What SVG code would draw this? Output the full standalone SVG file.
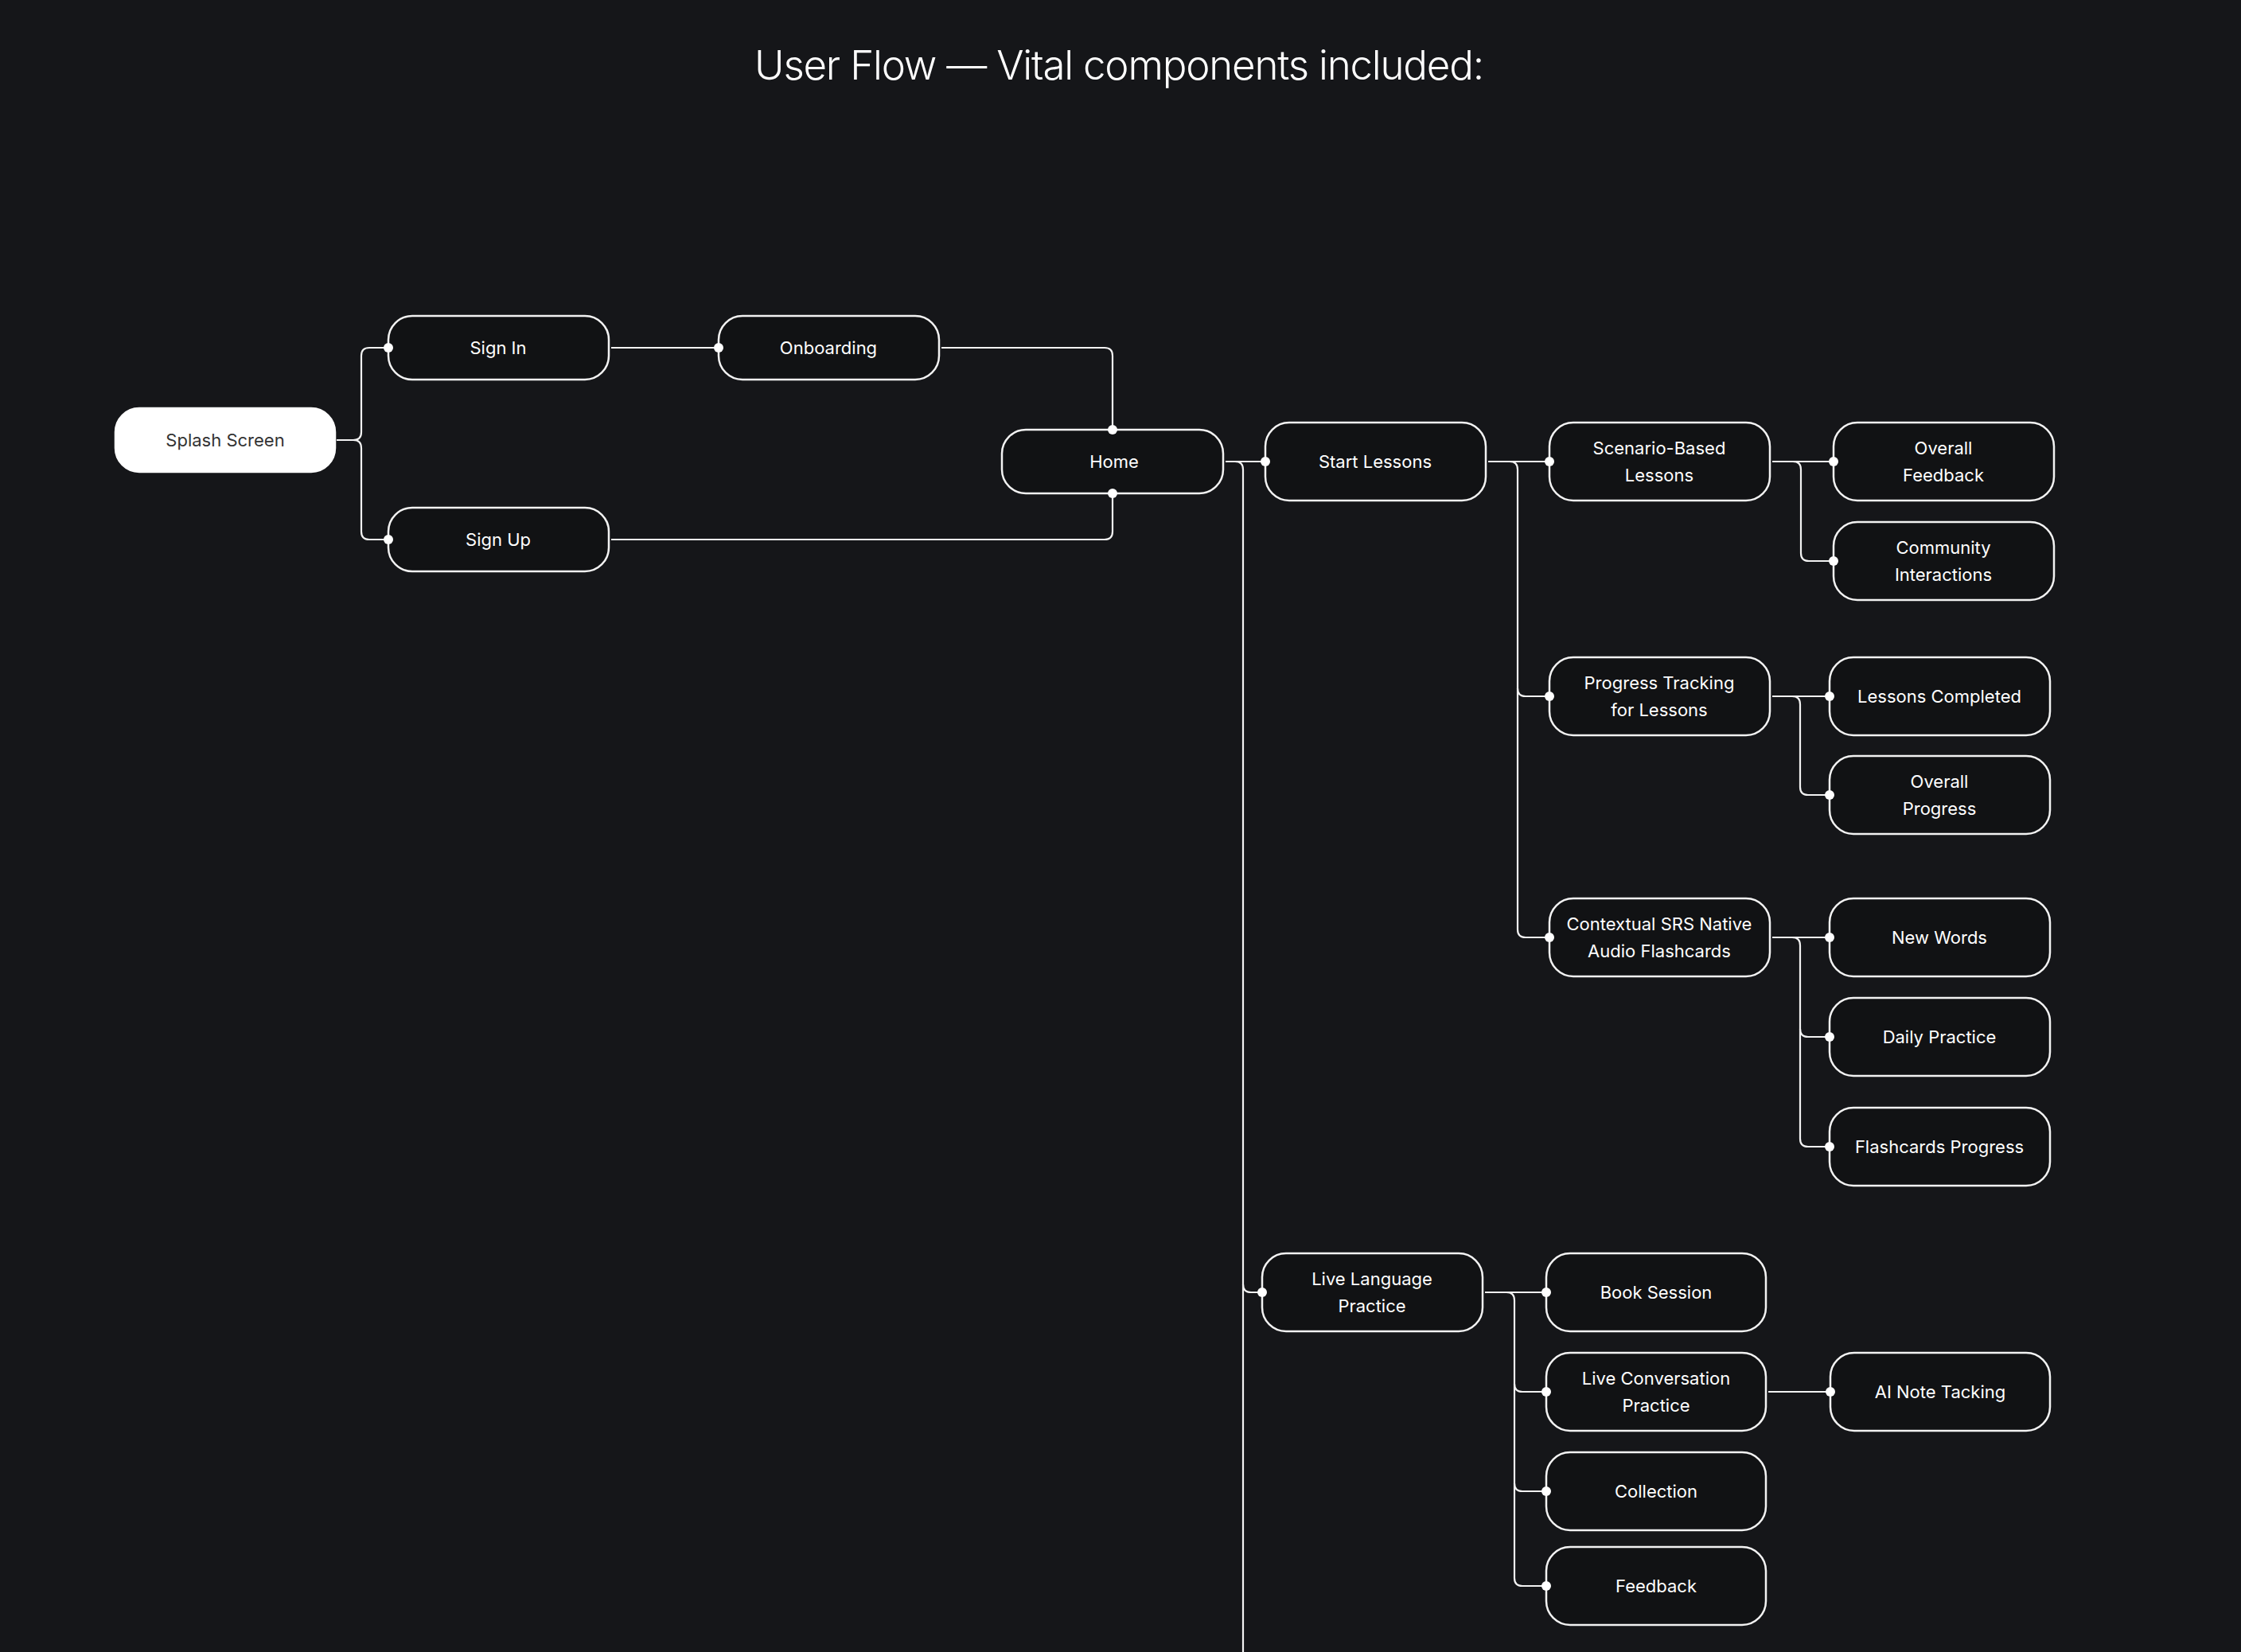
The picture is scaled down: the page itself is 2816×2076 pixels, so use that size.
<svg xmlns="http://www.w3.org/2000/svg" width="2816" height="2076" viewBox="0 0 2816 2076">
<style>
.bg{fill:#151619}
.n rect{fill:#111214;stroke:#f2f2f2;stroke-width:2.5}
.n text{fill:#ffffff;font-family:Inter,"Noto Sans","Liberation Sans",sans-serif;font-size:22px;font-weight:400;text-anchor:middle}
#splash rect{fill:#ffffff;stroke:#ffffff}
#splash text{fill:#333333}
.c path{fill:none;stroke:#f2f2f2;stroke-width:2.2}
.c circle{fill:#ffffff}
.title{fill:#ffffff;font-family:Inter,"Noto Sans","Liberation Sans",sans-serif;font-size:51px;font-weight:300;text-anchor:middle;letter-spacing:-1.2px}
</style>
<rect class="bg" x="0" y="0" width="2816" height="2076"/>
<text class="title" x="1406" y="100">User Flow — Vital components included:</text>

<g id="splash" class="n"><rect x="145" y="513" width="276" height="80" rx="30"/><text x="283" y="561">Splash Screen</text></g>
<g id="signin" class="n"><rect x="488" y="397" width="277" height="80" rx="30"/><text x="626" y="445">Sign In</text></g>
<g id="signup" class="n"><rect x="488" y="638" width="277" height="80" rx="30"/><text x="626" y="686">Sign Up</text></g>
<g id="onboarding" class="n"><rect x="903" y="397" width="277" height="80" rx="30"/><text x="1041" y="445">Onboarding</text></g>
<g id="home" class="n"><rect x="1259" y="540" width="278" height="80" rx="30"/><text x="1400" y="588">Home</text></g>
<g id="startlessons" class="n"><rect x="1590" y="531" width="277" height="98" rx="30"/><text x="1728" y="588">Start Lessons</text></g>
<g id="scenario" class="n"><rect x="1947" y="531" width="277" height="98" rx="30"/><text x="2085" y="571">Scenario-Based</text><text x="2085" y="605">Lessons</text></g>
<g id="overallfeedback" class="n"><rect x="2304" y="531" width="277" height="98" rx="30"/><text x="2442" y="571">Overall</text><text x="2442" y="605">Feedback</text></g>
<g id="community" class="n"><rect x="2304" y="656" width="277" height="98" rx="30"/><text x="2442" y="696">Community</text><text x="2442" y="730">Interactions</text></g>
<g id="progress" class="n"><rect x="1947" y="826" width="277" height="98" rx="30"/><text x="2085" y="866">Progress Tracking</text><text x="2085" y="900">for Lessons</text></g>
<g id="lessonscompleted" class="n"><rect x="2299" y="826" width="277" height="98" rx="30"/><text x="2437" y="883">Lessons Completed</text></g>
<g id="overallprogress" class="n"><rect x="2299" y="950" width="277" height="98" rx="30"/><text x="2437" y="990">Overall</text><text x="2437" y="1024">Progress</text></g>
<g id="contextual" class="n"><rect x="1947" y="1129" width="277" height="98" rx="30"/><text x="2085" y="1169">Contextual SRS Native</text><text x="2085" y="1203">Audio Flashcards</text></g>
<g id="newwords" class="n"><rect x="2299" y="1129" width="277" height="98" rx="30"/><text x="2437" y="1186">New Words</text></g>
<g id="dailypractice" class="n"><rect x="2299" y="1254" width="277" height="98" rx="30"/><text x="2437" y="1311">Daily Practice</text></g>
<g id="flashcardsprogress" class="n"><rect x="2299" y="1392" width="277" height="98" rx="30"/><text x="2437" y="1449">Flashcards Progress</text></g>
<g id="livelanguage" class="n"><rect x="1586" y="1575" width="277" height="98" rx="30"/><text x="1724" y="1615">Live Language</text><text x="1724" y="1649">Practice</text></g>
<g id="booksession" class="n"><rect x="1943" y="1575" width="276" height="98" rx="30"/><text x="2081" y="1632">Book Session</text></g>
<g id="liveconversation" class="n"><rect x="1943" y="1700" width="276" height="98" rx="30"/><text x="2081" y="1740">Live Conversation</text><text x="2081" y="1774">Practice</text></g>
<g id="ainote" class="n"><rect x="2300" y="1700" width="276" height="98" rx="30"/><text x="2438" y="1757">AI Note Tacking</text></g>
<g id="collection" class="n"><rect x="1943" y="1825" width="276" height="98" rx="30"/><text x="2081" y="1882">Collection</text></g>
<g id="feedback" class="n"><rect x="1943" y="1944" width="276" height="98" rx="30"/><text x="2081" y="2001">Feedback</text></g>

<g id="connectors" class="c">
<path d="M423 553 H444 Q454 553 454 543 V447 Q454 437 464 437 H488"/>
<path d="M444 553 Q454 553 454 563 V668 Q454 678 464 678 H488"/>
<path d="M768 437 H903"/>
<path d="M1183 437 H1388 Q1398 437 1398 447 V540"/>
<path d="M768 678 H1388 Q1398 678 1398 668 V620"/>
<path d="M1540 580 H1590"/>
<path d="M1552 580 Q1562 580 1562 590 V2076"/>
<path d="M1562 1614 Q1562 1624 1572 1624 H1586"/>
<path d="M1870 580 H1947"/>
<path d="M1897 580 Q1907 580 1907 590 V1168 Q1907 1178 1917 1178 H1947"/>
<path d="M1907 865 Q1907 875 1917 875 H1947"/>
<path d="M2227 580 H2304"/>
<path d="M2253 580 Q2263 580 2263 590 V695 Q2263 705 2273 705 H2304"/>
<path d="M2227 875 H2299"/>
<path d="M2252 875 Q2262 875 2262 885 V989 Q2262 999 2272 999 H2299"/>
<path d="M2227 1178 H2299"/>
<path d="M2252 1178 Q2262 1178 2262 1188 V1431 Q2262 1441 2272 1441 H2299"/>
<path d="M2262 1293 Q2262 1303 2272 1303 H2299"/>
<path d="M1866 1624 H1943"/>
<path d="M1893 1624 Q1903 1624 1903 1634 V1983 Q1903 1993 1913 1993 H1943"/>
<path d="M1903 1739 Q1903 1749 1913 1749 H1943"/>
<path d="M1903 1864 Q1903 1874 1913 1874 H1943"/>
<path d="M2222 1749 H2300"/>
<circle cx="488" cy="437" r="6"/>
<circle cx="488" cy="678" r="6"/>
<circle cx="903" cy="437" r="6"/>
<circle cx="1398" cy="540" r="6"/>
<circle cx="1398" cy="620" r="6"/>
<circle cx="1590" cy="580" r="6"/>
<circle cx="1586" cy="1624" r="6"/>
<circle cx="1947" cy="580" r="6"/>
<circle cx="1947" cy="875" r="6"/>
<circle cx="1947" cy="1178" r="6"/>
<circle cx="2304" cy="580" r="6"/>
<circle cx="2304" cy="705" r="6"/>
<circle cx="2299" cy="875" r="6"/>
<circle cx="2299" cy="999" r="6"/>
<circle cx="2299" cy="1178" r="6"/>
<circle cx="2299" cy="1303" r="6"/>
<circle cx="2299" cy="1441" r="6"/>
<circle cx="1943" cy="1624" r="6"/>
<circle cx="1943" cy="1749" r="6"/>
<circle cx="1943" cy="1874" r="6"/>
<circle cx="1943" cy="1993" r="6"/>
<circle cx="2300" cy="1749" r="6"/>
</g>
</svg>
